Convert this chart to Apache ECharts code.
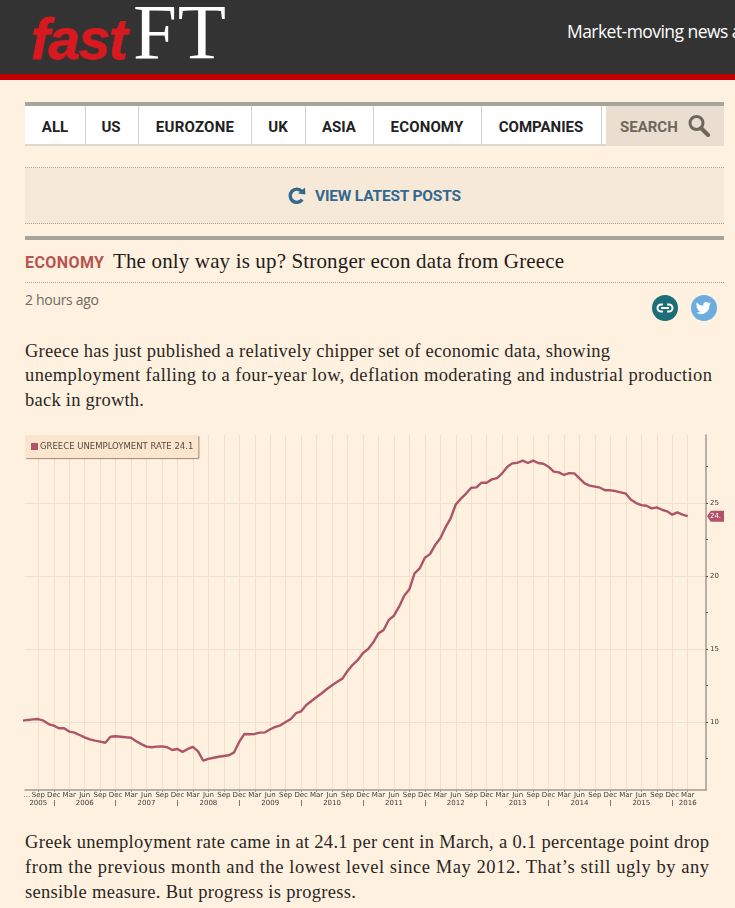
<!DOCTYPE html>
<html><head><meta charset="utf-8">
<script src="https://cdn.jsdelivr.net/npm/echarts@6/dist/echarts.min.js"></script>
<style>
html,body{margin:0;padding:0;width:735px;height:908px;overflow:hidden;background:#fff1e0}
#page{position:absolute;left:0;top:0;width:735px;height:908px;overflow:hidden}
#page div,#page span,#page svg{position:absolute}
.t{white-space:nowrap;line-height:1}
.nav{font:700 15px Roboto,sans-serif;color:#222;transform:translate(-50%,0);top:117.5px}
.serif{font-family:"Liberation Serif",serif;color:#2a2624;font-size:18.5px}
.sep{top:106px;width:1px;height:38px;background:#d5d1ca}
.dot{left:25px;width:699px;height:0;border-top:1px dotted #a8a396}
#chart{position:absolute;left:0;top:0;width:735px;height:908px;filter:blur(0.35px)}
</style></head><body>
<div id="page">
  <div style="left:0;top:0;width:735px;height:74px;background:#333"></div>
  <div style="left:0;top:74px;width:735px;height:6px;background:#c00000"></div>
  <div class="t" data-w="97" style="left:31px;top:6px;font:italic 700 57px 'Liberation Sans',sans-serif;color:#d71920;-webkit-text-stroke:.8px #d71920">fast</div>
  <div class="t" data-w="93" style="left:133px;top:-13px;font:400 79px 'Liberation Serif',serif;color:#fff">FT</div>
  <div class="t" style="left:567px;top:19px;font:400 17.5px 'Open Sans',sans-serif;color:#fff;letter-spacing:-.55px">Market-moving news and views</div>

  <div style="left:25px;top:102px;width:699px;height:4px;background:#a7a59b"></div>
  <div style="left:25px;top:106px;width:699px;height:38px;background:#fff"></div>
  <div style="left:25px;top:144px;width:699px;height:2px;background:#ddd8cf"></div>
  <div class="sep" style="left:85px"></div><div class="sep" style="left:138px"></div>
  <div class="sep" style="left:251px"></div><div class="sep" style="left:305px"></div>
  <div class="sep" style="left:373px"></div><div class="sep" style="left:481px"></div>
  <div class="sep" style="left:601px"></div>
  <div style="left:606px;top:106px;width:118px;height:40px;background:#e9decf"></div>
  <div class="t nav" style="left:55px">ALL</div>
  <div class="t nav" style="left:111px">US</div>
  <div class="t nav" style="left:195px;letter-spacing:.25px">EUROZONE</div>
  <div class="t nav" style="left:278px">UK</div>
  <div class="t nav" style="left:339px">ASIA</div>
  <div class="t nav" style="left:427px;letter-spacing:.15px">ECONOMY</div>
  <div class="t nav" style="left:541px">COMPANIES</div>
  <div class="t" style="left:620px;top:118px;font:700 15px Roboto,sans-serif;color:#6e675c">SEARCH</div>
  <svg style="left:687px;top:113px" width="24" height="24" viewBox="0 0 24 24"><circle cx="9.5" cy="10" r="6.5" fill="none" stroke="#6e675c" stroke-width="3"/><path d="M14 15 L21 22" stroke="#6e675c" stroke-width="4" stroke-linecap="round"/></svg>

  <div style="left:25px;top:168px;width:699px;height:56px;background:#f6e9d8"></div>
  <div class="dot" style="top:167px"></div><div class="dot" style="top:223px"></div>
  <svg style="left:287px;top:186px" width="20" height="20" viewBox="0 0 20 20"><path d="M15.2 13.500 A6.600 6.600 0 1 1 14.600 5.200" fill="none" stroke="#33688f" stroke-width="3.400"/><path d="M11 7.600 L18.400 8.600 L18 1.400 Z" fill="#33688f"/></svg>
  <div class="t" data-w="146" style="left:315px;top:187px;font:700 15.500px Roboto,sans-serif;color:#33688f">VIEW LATEST POSTS</div>

  <div style="left:25px;top:236px;width:699px;height:4px;background:#a7a59b"></div>
  <div class="t" data-w="79" style="left:25px;top:253px;font:700 16px Roboto,sans-serif;color:#b9534f">ECONOMY</div>
  <div class="t" data-w="451" style="left:113px;top:249px;font:400 21px 'Liberation Serif',serif;color:#1f1c1a">The only way is up? Stronger econ data from Greece</div>
  <div class="dot" style="top:282px"></div>
  <div class="t" data-w="74" style="left:25px;top:290px;font:400 14px 'Open Sans',sans-serif;color:#6f6a63">2 hours ago</div>
  <svg style="left:652px;top:295px" width="26" height="26" viewBox="0 0 26 26"><circle cx="13" cy="13" r="13" fill="#1c6e78"/><path d="M11 9.500 H9 a3.500 3.500 0 0 0 0 7 H11 M15 9.500 H17 a3.500 3.500 0 0 1 0 7 H15 M9 13 H17" fill="none" stroke="#fff" stroke-width="2"/></svg>
  <svg style="left:691px;top:295px" width="26" height="26" viewBox="0 0 26 26"><circle cx="13" cy="13" r="13" fill="#6cacdf"/><path d="M20 8.400c-.6.3-1.200.4-1.800.5.6-.4 1.100-1 1.300-1.700-.6.4-1.300.6-2 .8a3.100 3.100 0 0 0-5.300 2.800A8.800 8.800 0 0 1 5.800 7.500a3.100 3.100 0 0 0 1 4.100c-.5 0-1-.2-1.400-.4 0 1.500 1.100 2.800 2.500 3.100-.5.100-1 .1-1.400 0 .4 1.200 1.500 2.100 2.900 2.100A6.300 6.300 0 0 1 5 17.700a8.800 8.800 0 0 0 13.500-7.800c.6-.4 1.100-.9 1.500-1.500z" fill="#fff"/></svg>

  <div class="t serif" data-w="585" style="left:25px;top:342px">Greece has just published a relatively chipper set of economic data, showing</div>
  <div class="t serif" data-w="687" style="left:25px;top:366px">unemployment falling to a four-year low, deflation moderating and industrial production</div>
  <div class="t serif" data-w="119" style="left:25px;top:391px">back in growth.</div>

  <div class="t serif" data-w="684" style="left:25px;top:833px">Greek unemployment rate came in at 24.1 per cent in March, a 0.1 percentage point drop</div>
  <div class="t serif" data-w="684" style="left:25px;top:858px">from the previous month and the lowest level since May 2012. That’s still ugly by any</div>
  <div class="t serif" data-w="331" style="left:25px;top:883px">sensible measure. But progress is progress.</div>
</div>
<div id="chart"></div>
<script>
// Monthly unemployment rate, Jun 2005 to Mar 2016
const seriesName = 'GREECE UNEMPLOYMENT RATE 24.1';
const rate = [
 10.09,10.14,10.18,10.20,10.09,9.86,9.75,9.57,9.57,9.34,9.27,9.11,8.95,8.81,8.72,8.65,8.58,8.99,
 9.02,8.99,8.95,8.92,8.68,8.48,8.31,8.27,8.31,8.33,8.27,8.08,8.15,7.95,8.15,8.29,7.99,7.35,
 7.47,7.55,7.62,7.67,7.72,7.92,8.65,9.18,9.16,9.18,9.27,9.29,9.50,9.66,9.77,10.0,10.2,10.6,
 10.73,11.16,11.44,11.71,11.97,12.26,12.51,12.76,12.97,13.49,13.92,14.25,14.73,15.0,15.46,16.07,
 16.3,16.99,17.28,17.9,18.65,19.09,20.18,20.52,21.25,21.5,22.12,22.58,23.33,23.95,24.9,25.3,
 25.65,26.05,26.07,26.39,26.39,26.62,26.71,27.03,27.49,27.72,27.76,27.9,27.74,27.9,27.74,27.69,
 27.49,27.15,27.1,26.92,27.05,27.03,26.69,26.35,26.19,26.12,26.05,25.87,25.87,25.82,25.73,25.64,
 25.23,25.0,24.86,24.81,24.63,24.7,24.54,24.43,24.2,24.36,24.2,24.1];
const firstMonthOffset = -3;            // Jun 2005, counted in months from Sep 2005
const quarterTicks = [];                // Sep 2005 .. Mar 2016, every 3 months
for (let k = 0; k <= 126; k += 3) quarterTicks.push(k);
const quarterNames = ['Sep','Dec','Mar','Jun'];
const yearTicks  = [0,9,21,33,45,57,69,81,93,105,117,126];
const yearLabels = ['2005','2006','2007','2008','2009','2010','2011','2012','2013','2014','2015','2016'];
const yearSeparators = [3,15,27,39,51,63,75,87,99,111,123];
const yTicks = [7.5,10,12.5,15,17.5,20,22.5,25,27.5];
const yLabels = [10,15,20,25];
const xMin = -2.58, xMax = 129.55, yMin = 5.34, yMax = 29.66;
const lastLabel = '24.';

document.querySelectorAll('[data-w]').forEach(el => {
  const target = +el.dataset.w, n = el.textContent.length;
  const w = el.getBoundingClientRect().width;
  el.style.letterSpacing = ((target - w) / Math.max(1, n - 1)).toFixed(3) + 'px';
});

const lineColor = '#ad5468', gridColor = '#f3dfcc', axisColor = '#a09a90', textColor = '#3f3a36';
const chart = echarts.init(document.getElementById('chart'), null, {renderer:'canvas', width:735, height:908});
const ellipsisPos = -2.2;
chart.setOption({
  animation:false,
  backgroundColor:'transparent',
  legend:{
    show:true, left:25, top:435, padding:[7,5,7,6], itemGap:0, itemWidth:7, itemHeight:7,
    icon:'rect', backgroundColor:'#fbe6cd', borderRadius:1,
    shadowColor:'rgba(90,70,50,.6)', shadowBlur:1, shadowOffsetX:1, shadowOffsetY:1,
    textStyle:{fontFamily:'DejaVu Sans',fontSize:8.5,color:'#514b44',padding:[0,0,0,-3]},
    data:[seriesName]
  },
  grid:{left:25,right:29,top:435,bottom:118},
  xAxis:[{
    type:'value', position:'bottom', min:xMin, max:xMax,
    axisLine:{show:true,onZero:false,lineStyle:{color:axisColor,width:1.5}},
    axisTick:{show:true,customValues:quarterTicks,length:2,inside:false,lineStyle:{color:axisColor,width:1}},
    splitLine:{show:true,lineStyle:{color:gridColor,width:1.2}},
    axisLabel:{
      show:true, margin:2, fontFamily:'DejaVu Sans', fontSize:7, color:textColor,
      showMinLabel:true, showMaxLabel:true, hideOverlap:false,
      customValues:[ellipsisPos].concat(quarterTicks),
      formatter:v=> v===ellipsisPos ? '...' : quarterNames[(v/3)%4]
    }
  },{
    type:'value', position:'bottom', offset:10, min:xMin, max:xMax,
    axisLine:{show:false},
    axisTick:{show:true,customValues:yearSeparators,length:6,lineStyle:{color:'#7d776e',width:1}},
    axisLabel:{
      show:true, margin:0, fontFamily:'DejaVu Sans', fontSize:7, color:textColor,
      showMinLabel:true, showMaxLabel:true, hideOverlap:false,
      customValues:yearTicks,
      formatter:v=> yearLabels[yearTicks.indexOf(v)]
    },
    splitLine:{show:false}
  }],
  yAxis:[{
    type:'value', position:'right', min:yMin, max:yMax,
    axisLine:{show:true,onZero:false,lineStyle:{color:axisColor,width:1.5}},
    axisTick:{show:true,customValues:yTicks,length:2,lineStyle:{color:'#555',width:1}},
    axisLabel:{show:true,customValues:yLabels,margin:4,fontFamily:'DejaVu Sans',fontSize:7,color:textColor},
    splitLine:{show:false}
  },{
    type:'value', position:'right', min:yMin, max:yMax,
    axisLine:{show:false},
    axisTick:{show:false,customValues:yLabels},
    axisLabel:{show:false},
    splitLine:{show:true,lineStyle:{color:gridColor,width:1.2}}
  }],
  series:[{
    name:seriesName, type:'line', xAxisIndex:0, yAxisIndex:0,
    data:rate.map((v,i)=>[i+firstMonthOffset,v]),
    showSymbol:false, symbol:'none', smooth:false, clip:true,
    itemStyle:{color:'#b3506a'},
    lineStyle:{color:lineColor,width:2.4},
    markPoint:{
      silent:true,
      symbol:'path://M0 5.5 L4 0 L18 0 L18 11 L4 11 Z',
      symbolSize:[17,11], symbolOffset:[9.5,0], symbolKeepAspect:false,
      itemStyle:{color:'#b3506a'},
      label:{show:true,color:'#fff',fontFamily:'DejaVu Sans',fontSize:7,formatter:lastLabel},
      data:[{coord:[xMax,rate[rate.length-1]]}]
    }
  }]
});
</script>
</body></html>
